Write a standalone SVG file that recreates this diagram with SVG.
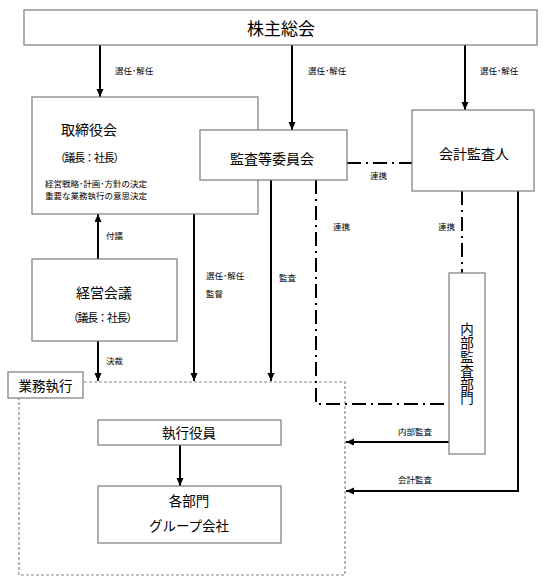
<svg xmlns="http://www.w3.org/2000/svg" width="546" height="587" viewBox="0 0 546 587">
<defs>
<marker id="ah" markerUnits="userSpaceOnUse" markerWidth="9" markerHeight="8" refX="8" refY="3.5" orient="auto">
<path d="M0,0 L8,3.5 L0,7 z" fill="#000"/>
</marker>
<style>
text{font-family:"Noto Sans CJK JP","Noto Sans CJK SC",sans-serif;fill:#000;dominant-baseline:central}
.box{fill:#fff;stroke:#7a7a7a;stroke-width:1.2}
.ln{fill:none;stroke:#000;stroke-width:2}
.ar{fill:none;stroke:#000;stroke-width:2;marker-end:url(#ah)}
.dd{fill:none;stroke:#000;stroke-width:2;stroke-dasharray:14 5 2 5}
.dash{fill:none;stroke:#8a8a8a;stroke-width:1.2;stroke-dasharray:3 2}
.t17{font-size:17px;text-anchor:middle}
.t14{font-size:14px;text-anchor:middle}
.tv{font-size:13.5px;text-anchor:middle;writing-mode:vertical-rl;letter-spacing:0.3px}
.t13{font-size:13.5px;text-anchor:middle}
.t11{font-size:11px;text-anchor:middle;letter-spacing:-1.2px}
.t8{font-size:8.5px}
.s{font-size:8.5px}
</style>
</defs>
<rect width="546" height="587" fill="#fff"/>

<g id="gyomu-area">
<rect class="dash" x="19" y="382" width="326" height="193"/>
</g>

<g id="connectors">
<line class="ar" x1="100" y1="45" x2="100" y2="97"/>
<line class="ar" x1="292" y1="45" x2="292" y2="130"/>
<line class="ar" x1="465" y1="45" x2="465" y2="110"/>
<line class="ar" x1="200" y1="142" x2="143" y2="142"/>
<line class="dd" x1="347" y1="163" x2="412" y2="163"/>
<line class="ar" x1="194" y1="214" x2="194" y2="381"/>
<line class="ar" x1="271" y1="180" x2="271" y2="381"/>
<polyline class="dd" points="316,180 316,404 449,404"/>
<line class="dd" x1="462" y1="191" x2="462" y2="273"/>
<line class="ar" x1="98" y1="259" x2="98" y2="214"/>
<line class="ar" x1="98" y1="341" x2="98" y2="381"/>
<line class="ar" x1="449" y1="442" x2="346" y2="442"/>
<polyline class="ar" points="518,191 518,491 346,491"/>
<line class="ar" x1="180" y1="445" x2="180" y2="486"/>
</g>

<g id="labels">
<text class="s" x="115" y="70">選任･解任</text>
<text class="s" x="308" y="70">選任･解任</text>
<text class="s" x="480" y="70">選任･解任</text>
<text class="s" x="165" y="129">監査等</text>
<text class="s" x="370" y="175">連携</text>
<text class="s" x="333" y="226">連携</text>
<text class="s" x="438" y="226">連携</text>
<text class="s" x="206" y="275">選任･解任</text>
<text class="s" x="206" y="293">監督</text>
<text class="s" x="279" y="277">監査</text>
<text class="s" x="106" y="235">付議</text>
<text class="s" x="106" y="360">決裁</text>
<text class="s" x="398" y="431">内部監査</text>
<text class="s" x="398" y="479">会計監査</text>
</g>

<g id="kabunushi">
<rect class="box" x="24" y="10" width="513" height="35"/>
<text class="t17" x="281" y="27">株主総会</text>
</g>

<g id="torishimariyaku">
<rect class="box" x="32" y="97" width="226" height="117"/>
<text class="t14" x="89" y="129">取締役会</text>
<text class="t11" x="89" y="157">（議長：社長）</text>
<text class="t8" x="45" y="183">経営戦略･計画･方針の決定</text>
<text class="t8" x="45" y="195">重要な業務執行の意思決定</text>
</g>

<g id="kansa-iinkai">
<rect class="box" x="200" y="130" width="147" height="50"/>
<text class="t14" x="272" y="158">監査等委員会</text>
</g>

<g id="kaikei-kansanin">
<rect class="box" x="412" y="110" width="122" height="81"/>
<text class="t14" x="474" y="153">会計監査人</text>
</g>

<g id="keiei-kaigi">
<rect class="box" x="32" y="259" width="145" height="82"/>
<text class="t14" x="104" y="292">経営会議</text>
<text class="t11" x="102" y="317">（議長：社長）</text>
</g>

<g id="naibu-kansa">
<rect class="box" x="449" y="273" width="36" height="181"/>
<text class="tv" x="467" y="364">内部監査部門</text>
</g>

<g id="gyomu-shikko">
<rect class="box" x="8" y="372" width="75" height="26"/>
<text class="t13" x="45.5" y="385">業務執行</text>
</g>

<g id="shikko-yakuin">
<rect class="box" x="98" y="420" width="183" height="25"/>
<text class="t13" x="189" y="432">執行役員</text>
</g>

<g id="kaku-bumon">
<rect class="box" x="98" y="486" width="183" height="57"/>
<text class="t13" x="189" y="500">各部門</text>
<text class="t13" x="189" y="525">グループ会社</text>
</g>
</svg>
